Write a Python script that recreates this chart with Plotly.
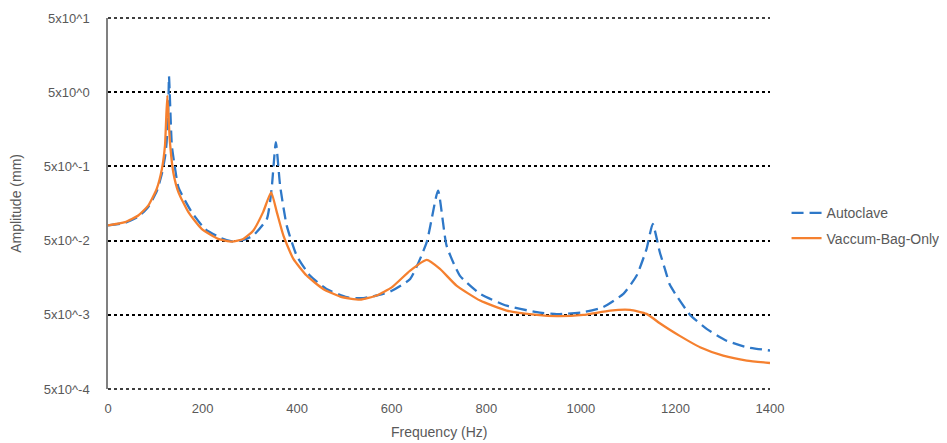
import plotly.graph_objects as go

# Autoclave (blue dashed)
auto_freq = [0, 36, 64, 85, 103, 114, 121, 124, 127.5, 129, 135, 142, 149, 177, 205, 240, 265,
             286, 307, 336, 346, 355, 364, 378, 399, 427, 462, 505, 540, 582, 596, 639, 674,
             698, 716, 744, 787, 843, 907, 949, 1005, 1047, 1090, 1118, 1139, 1152, 1167,
             1178, 1188, 1203, 1231, 1266, 1308, 1351, 1400]
auto_amp = [0.080, 0.087, 0.105, 0.142, 0.23, 0.40, 0.70, 1.06, 2.98, 8.2, 0.953, 0.463, 0.26,
            0.121, 0.072, 0.0537, 0.0485, 0.051, 0.0584, 0.098, 0.249, 1.06, 0.275, 0.0796,
            0.0314, 0.0169, 0.01117, 0.00863, 0.00838, 0.00956, 0.0102, 0.01523, 0.0476,
            0.236, 0.0428, 0.0169, 0.00956, 0.00665, 0.00542, 0.0051, 0.00542, 0.00633,
            0.00956, 0.0169, 0.0387, 0.084, 0.0349, 0.0205, 0.0128, 0.0089, 0.00498,
            0.00323, 0.00224, 0.00183, 0.00165]

# Vaccum-Bag-Only (orange solid)
vbo_freq = [0, 36, 64, 85, 103, 114, 120.5, 125.4, 131, 138, 149, 170, 198, 233, 262, 286, 307,
            328, 345, 357, 371, 392, 420, 455, 491, 533, 568, 600, 639, 674, 702, 737,
            787, 843, 907, 949, 1005, 1062, 1104, 1139, 1167, 1188, 1210, 1252, 1301, 1351,
            1400]
vbo_amp = [0.080, 0.0885, 0.109, 0.148, 0.249, 0.463, 0.953, 4.50, 1.06, 0.418, 0.224, 0.121,
           0.072, 0.0527, 0.0485, 0.0527, 0.068, 0.121, 0.224, 0.121, 0.0584, 0.0283, 0.0169,
           0.01117, 0.0088, 0.0080, 0.0091, 0.0117, 0.0197, 0.0275, 0.0208, 0.01237,
           0.00777, 0.0057, 0.00498, 0.00479, 0.00498, 0.0057, 0.00582, 0.00514, 0.00384,
           0.00314, 0.00258, 0.00183, 0.00141, 0.00121, 0.00112]

y_tick_vals = [5e-4, 5e-3, 5e-2, 5e-1, 5e0, 5e1]
y_tick_text = ["5x10^-4", "5x10^-3", "5x10^-2", "5x10^-1", "5x10^0", "5x10^1"]
x_tick_vals = [0, 200, 400, 600, 800, 1000, 1200, 1400]

BLUE = "#2e78c8"
ORANGE = "#f5802f"
GREY = "#595959"
FONT = "Liberation Sans"

fig = go.Figure()
fig.add_trace(go.Scatter(
    x=auto_freq, y=auto_amp, mode="lines", name="Autoclave", legendgroup="a",
    line=dict(color=BLUE, width=2.3, dash="12px,6px", shape="spline", smoothing=0.5),
))
fig.add_trace(go.Scatter(
    x=vbo_freq, y=vbo_amp, mode="lines", name="Vaccum-Bag-Only", legendgroup="b",
    line=dict(color=ORANGE, width=2.3, shape="spline", smoothing=0.5),
))

# dotted grid lines at the top and bottom edges of the plot area
for yy in (0, 1):
    fig.add_shape(type="line", xref="paper", yref="paper", x0=0, x1=1, y0=yy, y1=yy,
                  line=dict(color="black", width=1.5, dash="dot"), layer="below")

fig.update_layout(
    width=939, height=435,
    margin=dict(l=100, r=177, t=10, b=54, autoexpand=False),
    paper_bgcolor="white", plot_bgcolor="white",
    font=dict(family=FONT, size=13, color=GREY),
    legend=dict(x=1.025, y=0.44, xanchor="left", yanchor="middle",
                font=dict(family=FONT, size=14, color=GREY),
                tracegroupgap=4, bgcolor="rgba(0,0,0,0)"),
    showlegend=True,
    annotations=[
        dict(text="Frequency (Hz)", xref="paper", yref="paper", x=0.5, y=-0.115,
             xanchor="center", yanchor="middle", showarrow=False,
             font=dict(family=FONT, size=14, color=GREY)),
        dict(text="Amplitude (mm)", xref="paper", yref="paper", x=-0.14, y=0.5,
             xanchor="center", yanchor="middle", showarrow=False, textangle=-90,
             font=dict(family=FONT, size=14, color=GREY)),
    ],
)
fig.update_xaxes(
    range=[0, 1400], tickvals=x_tick_vals, showgrid=False, zeroline=False,
    showline=False, ticks="", automargin=False, ticklabelstandoff=10,
    tickfont=dict(family=FONT, size=13, color=GREY),
)
fig.update_yaxes(
    type="log", range=[-3.30103, 1.69897], tickvals=y_tick_vals, ticktext=y_tick_text,
    showgrid=True, gridcolor="black", griddash="dot", gridwidth=1.5,
    showline=True, linecolor="#808080", linewidth=1.5, zeroline=False, ticks="",
    automargin=False, ticklabelstandoff=14,
    tickfont=dict(family=FONT, size=13, color=GREY),
)

fig.write_html("out.html")
